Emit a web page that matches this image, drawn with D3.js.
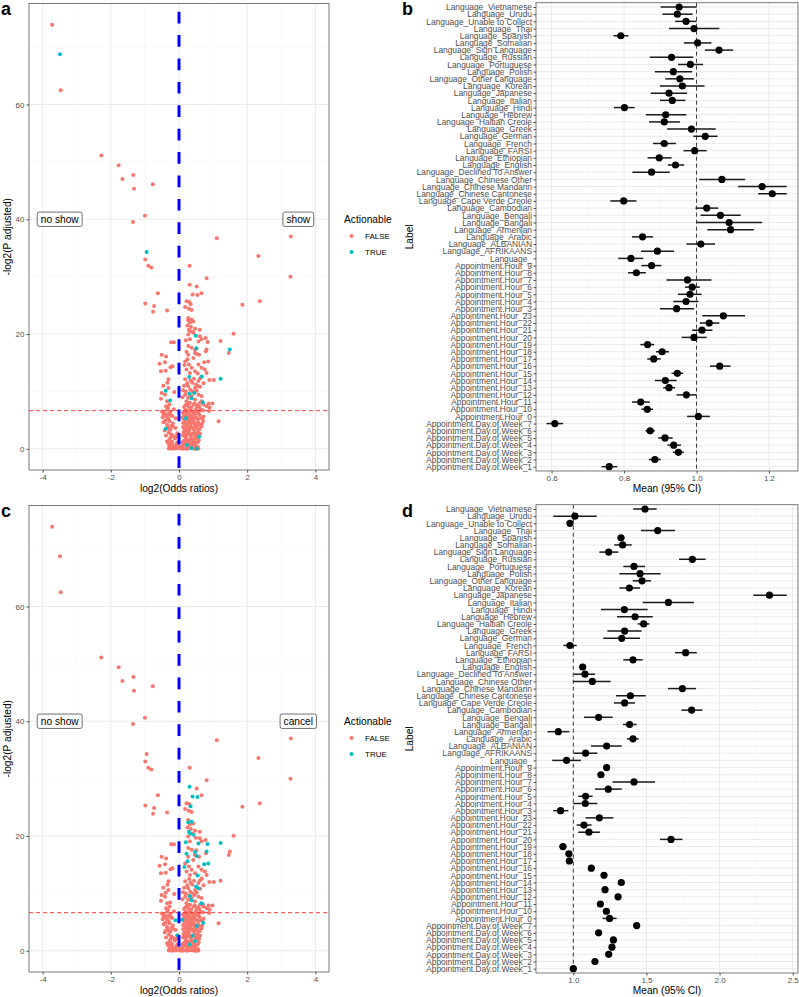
<!DOCTYPE html>
<html>
<head>
<meta charset="utf-8">
<script src="https://cdn.jsdelivr.net/npm/d3@7"></script>
<style>
  body { margin: 0; background: #fff; }
  svg { display: block; font-family: "Liberation Sans", Arial, sans-serif; }
</style>
</head>
<body>
<svg id="fig" width="799" height="997"></svg>
<script>
// ---- forest plot categories (top to bottom) ----
const labels = [
  "Language_Vietnamese", "Language_Urudu", "Language_Unable to Collect", "Language_Thai",
  "Language_Spanish", "Language_Somalian", "Language_Sign Language", "Language_Russian",
  "Language_Portuguese", "Language_Polish", "Language_Other Language", "Language_Korean",
  "Language_Japanese", "Language_Italian", "Language_Hindi", "Language_Hebrew",
  "Language_Haitian Creole", "Language_Greek", "Language_German", "Language_French",
  "Language_FARSI", "Language_Ethiopian", "Language_English", "Language_Declined To Answer",
  "Language_Chinese Other", "Language_Chinese Mandarin", "Language_Chinese Cantonese",
  "Language_Cape Verde Creole", "Language_Cambodian", "Language_Bengali", "Language_Bangali",
  "Language_Armenian", "Language_Arabic", "Language_ALBANIAN", "Language_AFRIKAANS", "Language_",
  "Appointment.Hour_9", "Appointment.Hour_8", "Appointment.Hour_7", "Appointment.Hour_6",
  "Appointment.Hour_5", "Appointment.Hour_4", "Appointment.Hour_3", "Appointment.Hour_23",
  "Appointment.Hour_22", "Appointment.Hour_21", "Appointment.Hour_20", "Appointment.Hour_19",
  "Appointment.Hour_18", "Appointment.Hour_17", "Appointment.Hour_16", "Appointment.Hour_15",
  "Appointment.Hour_14", "Appointment.Hour_13", "Appointment.Hour_12", "Appointment.Hour_11",
  "Appointment.Hour_10", "Appointment.Hour_0",
  "Appointment.Day.of.Week_7", "Appointment.Day.of.Week_6", "Appointment.Day.of.Week_5",
  "Appointment.Day.of.Week_4", "Appointment.Day.of.Week_3", "Appointment.Day.of.Week_2",
  "Appointment.Day.of.Week_1"
];

// panel b (show vs no show): mean and 95% CI
const showMean = [0.952,0.947,0.971,0.993,0.791,1.003,1.062,0.931,0.983,0.936,0.954,0.961,0.924,0.933,0.801,0.915,0.911,0.986,1.024,0.911,0.995,0.897,0.942,0.876,1.070,1.181,1.209,0.799,1.028,1.066,1.090,1.094,0.851,1.012,0.892,0.819,
  0.876,0.834,0.975,0.988,0.982,0.971,0.945,1.074,1.035,1.015,0.993,0.865,0.905,0.882,1.064,0.947,0.914,0.924,0.972,0.846,0.864,1.005,
  0.609,0.872,0.913,0.937,0.950,0.885,0.759];
const showLo = [0.901,0.906,0.941,0.924,0.771,0.965,1.023,0.871,0.949,0.885,0.914,0.899,0.874,0.899,0.772,0.860,0.869,0.919,0.991,0.880,0.964,0.865,0.921,0.823,1.007,1.115,1.170,0.762,0.997,1.011,1.000,1.030,0.822,0.972,0.847,0.784,
  0.848,0.811,0.917,0.968,0.949,0.936,0.899,1.016,1.009,0.988,0.959,0.845,0.888,0.864,1.037,0.931,0.885,0.908,0.945,0.822,0.848,0.974,
  0.586,0.859,0.894,0.920,0.935,0.869,0.738];
const showHi = [1.000,0.989,1.000,1.063,0.812,1.041,1.101,0.991,1.018,0.988,0.993,1.022,0.974,0.969,0.829,0.972,0.954,1.053,1.058,0.943,1.028,0.931,0.966,0.926,1.134,1.249,1.249,0.834,1.060,1.122,1.181,1.158,0.880,1.051,0.938,0.853,
  0.903,0.860,1.041,1.009,1.014,1.005,0.993,1.134,1.063,1.044,1.028,0.883,0.924,0.901,1.094,0.963,0.945,0.941,1.000,0.871,0.880,1.037,
  0.632,0.885,0.934,0.957,0.965,0.901,0.781];

// panel d (cancel vs no show): mean and 95% CI
const cancelMean = [1.490,1.011,0.977,1.577,1.326,1.337,1.242,1.814,1.415,1.456,1.470,1.383,2.341,1.650,1.349,1.422,1.481,1.351,1.331,0.977,1.768,1.408,1.064,1.080,1.130,1.746,1.390,1.351,1.809,1.173,1.385,0.897,1.408,1.228,1.084,0.954,
  1.228,1.189,1.415,1.239,1.084,1.082,0.913,1.178,1.073,1.107,1.668,0.929,0.970,0.973,1.123,1.210,1.328,1.217,1.306,1.185,1.226,1.248,
  1.433,1.173,1.274,1.264,1.242,1.148,1.000];
const cancelLo = [1.410,0.863,0.965,1.463,1.303,1.280,1.178,1.723,1.342,1.315,1.406,1.315,2.231,1.474,1.189,1.299,1.440,1.233,1.205,0.932,1.695,1.342,1.046,1.005,1.000,1.648,1.292,1.278,1.739,1.073,1.340,0.824,1.367,1.121,1.005,0.856,
  1.205,1.166,1.269,1.148,1.034,1.000,0.863,1.084,1.023,1.034,1.593,0.904,0.948,0.950,1.103,1.189,1.308,1.196,1.285,1.164,1.205,1.201,
  1.415,1.155,1.256,1.246,1.224,1.130,0.977];
const cancelHi = [1.570,1.160,0.990,1.695,1.349,1.399,1.308,1.905,1.490,1.597,1.531,1.456,2.459,1.825,1.508,1.543,1.520,1.467,1.456,1.023,1.844,1.474,1.082,1.148,1.255,1.839,1.495,1.422,1.882,1.269,1.433,0.973,1.447,1.331,1.164,1.052,
  1.251,1.212,1.559,1.331,1.132,1.164,0.966,1.274,1.125,1.182,1.746,0.954,0.993,0.995,1.144,1.230,1.349,1.237,1.326,1.205,1.246,1.296,
  1.451,1.192,1.292,1.283,1.260,1.166,1.023];

// volcano points: [log2 odds ratio, -log2 p adjusted, actionable in a (show), actionable in c (cancel)]
const volcanoPts = [
  [-3.72,73.9,0,0],[-3.49,68.75,1,0],[-3.47,62.5,0,0],[-2.28,51.1,0,0],[-1.77,49.4,0,0],[-1.66,47.0,0,0],
  [-1.34,47.7,0,0],[-1.32,45.3,0,0],[-0.77,46.1,0,0],[-1.00,40.6,0,0],[-1.35,39.5,0,0],[1.11,36.7,0,0],
  [3.28,37.0,0,0],[-0.95,34.3,1,0],[-0.99,33.0,0,0],[-0.90,31.9,0,0],[-0.81,31.6,0,0],[2.33,33.6,0,0],
  [0.31,31.9,0,0],[0.81,29.7,0,0],[3.27,30.0,0,0],[0.31,28.6,0,1],[0.52,28.3,0,0],[-0.62,27.1,0,0],
  [-0.99,25.3,0,0],[-0.73,24.9,0,0],[-0.76,23.9,0,0],[-0.35,24.1,0,0],[1.86,25.1,0,0],[2.37,25.7,0,0],
  [0.40,26.9,0,1],[0.54,26.8,0,1],[0.66,27.1,0,0],[0.22,25.7,0,0],[0.30,25.6,0,0],[0.34,25.2,0,1],
  [0.18,24.7,0,0],[0.29,24.4,0,0],[0.37,24.2,0,0],[1.60,20.05,0,0],[1.22,18.8,0,1],[1.49,17.3,1,0],
  [1.46,16.7,0,0],[1.22,12.2,1,0],[0.89,12.0,0,0],[1.02,12.0,0,0],[1.16,4.8,0,0],[0.87,7.9,0,0],[0.98,7.9,0,0],
  [0.27,22.8,0,0],[0.37,22.5,0,1],[0.27,22.4,0,1],[0.42,22.2,0,0],[0.32,22.0,0,0],[0.25,21.5,0,0],
  [0.35,21.2,0,0],[0.29,20.75,0,1],[0.32,20.5,0,1],[0.39,20.4,0,0],[0.47,20.9,0,0],[0.61,20.75,0,0],
  [0.42,20.2,0,1],[0.49,19.7,1,0],[0.27,19.9,0,0],[0.32,19.1,0,0],[0.61,19.6,0,0],[0.66,19.1,0,0],
  [0.78,19.3,0,0],[-0.23,18.55,0,0],[-0.15,18.55,0,0],[0.20,18.9,0,1],[0.57,18.7,0,1],[0.84,18.6,0,1],
  [0.51,17.5,1,0],[0.47,17.2,0,1],[0.81,17.3,0,1],[0.79,17.0,0,0],[0.27,17.9,0,0],[0.37,17.6,0,0],
  [0.47,16.7,0,0],[0.22,16.9,0,1],[0.52,16.5,0,1],[0.27,16.4,0,0],[0.42,15.8,0,0],[0.59,16.4,0,0],
  [-0.51,16.4,0,0],[-0.38,16.1,0,0],[-0.57,14.8,0,0],[-0.41,15.1,0,0],[-0.53,13.5,0,0],[-0.39,13.6,0,0],
  [-0.25,14.2,0,0],[-0.19,14.4,0,0],[0.18,15.2,0,0],[0.29,14.7,0,0],[0.37,14.1,0,0],[0.22,13.8,0,0],
  [0.32,13.2,0,0],[0.47,13.5,0,0],[0.57,14.7,0,0],[0.66,14.1,0,0],[0.76,13.8,0,0],[0.86,15.2,0,1],
  [0.74,15.1,0,1],[0.25,15.6,0,1],[0.16,14.6,0,1],[0.81,13.2,0,0],[0.55,13.1,0,1],[0.30,12.5,1,0],
  [0.67,12.6,1,0],[0.18,12.1,0,0],[0.39,11.5,0,0],[0.57,11.8,0,0],[0.50,11.2,0,1],[0.57,10.9,0,1],
  [0.27,10.9,0,0],[0.47,10.6,0,0],[0.62,10.8,0,0],[-0.39,10.1,1,0],[-0.31,12.1,0,0],[-0.34,11.5,0,0],
  [-0.46,11.0,0,0],[-0.31,10.6,0,0],[-0.51,9.7,0,0],[-0.41,9.4,0,0],[-0.14,9.9,0,0],[-0.53,8.7,0,0],
  [-0.35,8.3,0,0],[-0.26,8.4,1,0],[0.18,9.4,0,0],[0.27,8.9,0,0],[0.37,9.2,0,0],[0.47,8.6,0,0],
  [0.57,9.4,0,0],[0.66,9.2,0,0],[0.22,8.3,0,0],[0.32,8.0,0,0],[0.42,7.7,0,0],[0.52,7.4,0,0],
  [0.62,8.0,0,0],[0.70,8.1,1,0],[0.81,7.4,0,0],[0.45,9.7,1,0],[0.30,9.6,1,0],[0.37,8.8,1,1],
  [0.32,9.5,0,1],[0.66,8.3,0,1],[0.12,10.2,0,0],[0.15,11.0,0,0],[0.10,9.0,0,0],
  [0.20,10.0,0,0],[0.33,10.3,0,0],[0.41,10.0,0,0],[0.52,10.1,0,0],[0.24,11.4,0,0],[0.34,11.9,0,0],
  [0.44,12.2,0,0],[0.62,12.3,0,0],[0.72,11.4,0,0],
  [-0.38,7.4,0,0],[-0.28,7.7,0,0],[0.15,7.3,0,0],[0.24,7.8,0,0],[0.55,7.6,0,0],[0.90,7.2,0,0],
  [-0.32,7.1,0,0],[0.19,7.6,0,0],[0.28,7.4,0,0],[0.36,7.2,0,0],[0.46,7.9,0,0],[0.60,7.3,0,0],[0.72,7.7,0,0],
  [-0.50,6.5,0,0],[-0.42,6.2,0,0],[-0.35,6.8,0,0],[-0.25,6.4,0,0],[-0.15,6.9,0,0],[0.12,6.3,0,0],
  [0.20,6.8,0,0],[0.28,6.2,0,0],[0.36,6.6,0,0],[0.43,6.1,0,0],[0.50,6.9,0,0],[0.58,6.4,0,0],
  [0.70,6.7,0,0],[0.88,6.6,0,0],
  [-0.45,6.0,0,0],[-0.30,6.1,0,0],[0.16,6.5,0,0],[0.24,6.5,0,0],[0.32,6.9,0,0],[0.40,6.4,0,0],
  [0.47,6.5,0,0],[0.54,6.2,0,0],[0.63,6.8,0,0],
  [-0.48,5.5,0,0],[-0.40,5.9,0,0],[-0.30,5.2,0,0],[-0.20,5.7,0,0],[-0.10,5.3,0,1],[0.10,5.4,0,1],
  [0.15,5.8,0,0],[0.20,5.3,1,0],[0.22,5.9,0,0],[0.30,5.5,0,0],[0.38,5.1,0,0],[0.45,5.7,0,0],
  [0.52,5.3,0,0],[0.60,5.9,0,0],[0.72,5.6,0,0],
  [-0.35,5.5,0,0],[-0.25,5.9,0,0],[0.18,5.5,0,0],[0.26,5.2,0,0],[0.34,5.8,0,0],[0.41,5.4,0,0],
  [0.48,5.5,0,0],[0.56,5.2,0,0],[0.65,5.3,0,0],
  [-0.45,4.6,0,0],[-0.35,4.2,0,0],[-0.28,4.8,0,0],[-0.18,4.4,0,0],[0.12,4.5,0,0],[0.20,4.1,0,0],
  [0.27,4.7,0,0],[0.34,4.3,0,0],[0.41,4.9,0,0],[0.47,4.2,0,0],[0.52,4.3,0,1],[0.56,4.6,0,0],
  [0.68,4.4,0,0],[0.71,4.9,0,1],
  [-0.40,4.9,0,0],[-0.22,4.0,0,0],[0.16,4.9,0,0],[0.24,4.4,0,0],[0.31,4.9,0,0],[0.38,4.5,0,0],
  [0.44,4.7,0,0],[0.60,4.2,0,0],
  [-0.42,3.2,0,0],[-0.39,3.5,1,0],[-0.33,3.8,0,0],[-0.25,3.3,0,0],[-0.10,3.6,0,0],[0.16,3.4,0,0],
  [0.24,3.9,0,0],[0.30,3.2,0,0],[0.37,3.7,0,0],[0.44,3.3,0,0],[0.51,3.8,0,0],[0.60,3.4,0,0],[0.66,3.9,0,0],
  [-0.30,3.5,0,0],[-0.18,3.9,0,0],[0.12,3.8,0,0],[0.20,3.2,0,0],[0.27,3.5,0,0],[0.34,3.9,0,0],
  [0.41,3.6,0,0],[0.48,3.9,0,0],[0.55,3.5,0,0],
  [-0.38,2.3,0,0],[-0.30,2.8,0,0],[-0.22,2.5,0,0],[-0.15,2.2,0,0],[-0.05,2.7,0,1],[0.14,2.9,0,0],
  [0.22,2.4,0,0],[0.28,2.8,0,0],[0.35,2.2,0,0],[0.40,2.6,0,1],[0.48,2.3,0,0],[0.55,2.9,0,0],
  [0.59,2.1,1,0],[0.62,2.6,0,0],
  [-0.25,2.0,0,0],[-0.08,2.1,0,0],[0.12,2.3,0,0],[0.18,2.7,0,0],[0.32,2.5,0,0],[0.45,2.8,0,0],[0.52,2.5,0,0],
  [-0.35,1.3,0,0],[-0.27,1.6,0,0],[-0.20,1.2,0,0],[-0.12,1.8,0,0],[0.15,1.4,0,0],[0.20,1.9,0,0],
  [0.26,1.2,0,0],[0.32,1.1,0,1],[0.38,1.7,0,0],[0.45,1.3,0,0],[0.47,1.7,0,1],[0.50,1.9,0,0],[0.58,1.5,0,0],
  [-0.32,1.0,0,0],[-0.05,1.1,0,0],[0.10,1.15,0,0],[0.22,1.5,0,0],[0.30,1.6,0,0],[0.42,1.1,0,0],[0.55,1.1,0,0],
  [-0.28,0.6,0,0],[-0.18,0.5,0,0],[-0.08,0.8,0,0],[0.12,0.7,0,0],[0.23,0.65,1,0],[0.32,0.5,0,0],
  [0.42,0.8,0,0],[0.50,0.45,0,0],[-0.22,0.95,0,0],[0.18,1.0,0,0],[0.28,0.9,0,0],[0.38,0.55,0,0],[0.46,0.95,0,0],
  [-0.27,0.3,0,0],[-0.12,0.35,0,0],[0.02,0.4,0,0],[0.08,0.3,0,0],[0.27,0.3,0,0],[0.35,0.35,0,0],[0.55,0.3,0,0],
  [-0.30,0.05,0,0],[-0.25,0.1,0,0],[-0.20,0.0,0,0],[-0.15,0.15,0,0],[-0.10,0.05,0,0],[-0.05,0.1,0,0],
  [0.05,0.05,0,0],[0.10,0.0,0,0],[0.15,0.1,0,0],[0.20,0.05,0,0],[0.25,0.0,0,0],[0.30,0.12,0,0],
  [0.37,0.1,1,0],[0.42,0.05,0,0],[0.47,0.0,0,0],[0.52,0.0,1,0],[0.57,0.05,0,0]
];

const colFalse = "#F8766D", colTrue = "#00BFC4";
const gridMajor = "#ebebeb", gridMinor = "#f5f5f5";
const border = "#6b6b6b", tickCol = "#4d4d4d";

const svg = d3.select("#fig");

function drawVolcano(oy, flag, sideText, letter) {
  const g = svg.append("g").attr("transform", `translate(0,${oy})`);
  const x = d3.scaleLinear().domain([-4.4, 4.4]).range([29, 329]);
  const y = d3.scaleLinear().domain([-3.7, 77.6]).range([470, 3.5]);

  // grid
  g.selectAll(".gxm").data([-3, -1, 1, 3]).join("line")
    .attr("x1", d => x(d)).attr("x2", d => x(d)).attr("y1", y.range()[0]).attr("y2", y.range()[1])
    .attr("stroke", gridMinor).attr("stroke-width", 0.6);
  g.selectAll(".gym").data([10, 30, 50, 70]).join("line")
    .attr("y1", d => y(d)).attr("y2", d => y(d)).attr("x1", 29).attr("x2", 329)
    .attr("stroke", gridMinor).attr("stroke-width", 0.6);
  g.selectAll(".gx").data([-4, -2, 0, 2, 4]).join("line")
    .attr("x1", d => x(d)).attr("x2", d => x(d)).attr("y1", y.range()[0]).attr("y2", y.range()[1])
    .attr("stroke", gridMajor).attr("stroke-width", 1);
  g.selectAll(".gy").data([0, 20, 40, 60]).join("line")
    .attr("y1", d => y(d)).attr("y2", d => y(d)).attr("x1", 29).attr("x2", 329)
    .attr("stroke", gridMajor).attr("stroke-width", 1);

  // points: FALSE first, TRUE on top
  const pts = volcanoPts.slice().sort((a, b) => a[flag] - b[flag]);
  g.selectAll(".pt").data(pts).join("circle")
    .attr("cx", d => x(d[0])).attr("cy", d => y(d[1])).attr("r", 2)
    .attr("fill", d => d[flag] ? colTrue : colFalse);

  // significance threshold
  g.append("line").attr("x1", 29).attr("x2", 329)
    .attr("y1", y(-Math.log2(0.01))).attr("y2", y(-Math.log2(0.01)))
    .attr("stroke", "#ff2a2a").attr("stroke-width", 0.9).attr("stroke-dasharray", "4,3");
  // zero line
  g.append("line").attr("x1", x(0)).attr("x2", x(0)).attr("y1", 3.5).attr("y2", 470)
    .attr("stroke", "#0000ff").attr("stroke-width", 3)
    .attr("stroke-dasharray", "11.7,11.7").attr("stroke-dashoffset", 15.2);

  // annotations
  [[-3.5, "no show"], [3.5, sideText]].forEach(([vx, t]) => {
    const lab = g.append("g").attr("transform", `translate(${x(vx)},${y(40)})`);
    const txt = lab.append("text").attr("text-anchor", "middle").attr("dy", "0.35em")
      .attr("font-size", 10.2).attr("fill", "#000").text(t);
    const w = txt.node().getComputedTextLength();
    lab.insert("rect", "text").attr("x", -w / 2 - 3.5).attr("y", -7.2).attr("width", w + 7).attr("height", 14.4)
      .attr("rx", 2).attr("fill", "#fff").attr("stroke", "#333").attr("stroke-width", 0.7);
  });

  // border
  g.append("rect").attr("x", 29).attr("y", 3.5).attr("width", 300).attr("height", 466.5)
    .attr("fill", "none").attr("stroke", border).attr("stroke-width", 0.9);

  // axes
  const ax = g.append("g").attr("transform", "translate(0,470)")
    .call(d3.axisBottom(x).tickValues([-4, -2, 0, 2, 4]).tickSize(2.5).tickPadding(2).tickFormat(d3.format("d")));
  const ay = g.append("g").attr("transform", "translate(29,0)")
    .call(d3.axisLeft(y).tickValues([0, 20, 40, 60]).tickSize(2.5).tickPadding(2));
  [ax, ay].forEach(a => {
    a.select(".domain").remove();
    a.selectAll("line").attr("stroke", tickCol);
    a.selectAll("text").attr("fill", tickCol).attr("font-size", 8).attr("font-family", null);
  });
  ax.selectAll("text").text(d => d < 0 ? "-" + Math.abs(d) : d);

  g.append("text").attr("x", 179).attr("y", 492).attr("text-anchor", "middle")
    .attr("font-size", 10.2).text("log2(Odds ratios)");
  g.append("text").attr("transform", `translate(11,${(3.5 + 470) / 2}) rotate(-90)`)
    .attr("text-anchor", "middle").attr("font-size", 10.2).text("-log2(P adjusted)");

  // legend
  g.append("text").attr("x", 344).attr("y", 222.5).attr("font-size", 10.2).text("Actionable");
  [["FALSE", colFalse, 236], ["TRUE", colTrue, 252]].forEach(([t, c, ly]) => {
    g.append("circle").attr("cx", 351.5).attr("cy", ly).attr("r", 2).attr("fill", c);
    g.append("text").attr("x", 365).attr("y", ly).attr("dy", "0.35em").attr("font-size", 8)
      .attr("fill", "#000").text(t);
  });

  g.append("text").attr("x", 1).attr("y", 14.5).attr("font-size", 18).attr("font-weight", "bold").text(letter);
}

function drawForest(oy, mean, lo, hi, domain, majors, minors, letter) {
  const g = svg.append("g").attr("transform", `translate(0,${oy})`);
  const L = 536, R = 798, T = 2.7, B = 471;
  const x = d3.scaleLinear().domain(domain).range([L, R]);
  const y = d3.scalePoint().domain(labels).range([T, B]).padding(0.6);

  g.selectAll(".gxm").data(minors).join("line")
    .attr("x1", d => x(d)).attr("x2", d => x(d)).attr("y1", T).attr("y2", B)
    .attr("stroke", gridMinor).attr("stroke-width", 0.6);
  g.selectAll(".gx").data(majors).join("line")
    .attr("x1", d => x(d)).attr("x2", d => x(d)).attr("y1", T).attr("y2", B)
    .attr("stroke", gridMajor).attr("stroke-width", 1);
  g.selectAll(".gy").data(labels).join("line")
    .attr("y1", d => y(d)).attr("y2", d => y(d)).attr("x1", L).attr("x2", R)
    .attr("stroke", gridMajor).attr("stroke-width", 1);

  g.append("line").attr("x1", x(1)).attr("x2", x(1)).attr("y1", T).attr("y2", B)
    .attr("stroke", "#3a3a3a").attr("stroke-width", 1).attr("stroke-dasharray", "4,3");

  g.selectAll(".ci").data(labels).join("line")
    .attr("x1", (d, i) => x(lo[i])).attr("x2", (d, i) => x(hi[i]))
    .attr("y1", d => y(d)).attr("y2", d => y(d))
    .attr("stroke", "#1a1a1a").attr("stroke-width", 1.5);
  g.selectAll(".pt").data(labels).join("circle")
    .attr("cx", (d, i) => x(mean[i])).attr("cy", d => y(d)).attr("r", 3.6).attr("fill", "#000");

  g.append("rect").attr("x", L).attr("y", T).attr("width", R - L).attr("height", B - T)
    .attr("fill", "none").attr("stroke", border).attr("stroke-width", 0.9);

  const ax = g.append("g").attr("transform", `translate(0,${B})`)
    .call(d3.axisBottom(x).tickValues(majors).tickSize(2.5).tickPadding(2).tickFormat(d3.format(".1f")));
  const ay = g.append("g").attr("transform", `translate(${L},0)`)
    .call(d3.axisLeft(y).tickSize(2.5).tickPadding(1.5));
  [ax, ay].forEach(a => {
    a.select(".domain").remove();
    a.selectAll("line").attr("stroke", tickCol);
    a.selectAll("text").attr("fill", tickCol).attr("font-size", 8).attr("font-family", null);
  });
  ay.selectAll("text").attr("font-size", 8.4);

  g.append("text").attr("x", (L + R) / 2).attr("y", 492).attr("text-anchor", "middle")
    .attr("font-size", 10.2).text("Mean (95% CI)");
  g.append("text").attr("transform", `translate(413,${(T + B) / 2}) rotate(-90)`)
    .attr("text-anchor", "middle").attr("font-size", 10.2).text("Label");
  g.append("text").attr("x", 402).attr("y", 14.5).attr("font-size", 18).attr("font-weight", "bold").text(letter);
}

drawVolcano(0, 2, "show", "a");
drawForest(0, showMean, showLo, showHi, [0.557, 1.28], [0.6, 0.8, 1.0, 1.2], [0.7, 0.9, 1.1], "b");
drawVolcano(502, 3, "cancel", "c");
drawForest(502, cancelMean, cancelLo, cancelHi, [0.745, 2.536], [1.0, 1.5, 2.0, 2.5], [1.25, 1.75, 2.25], "d");
</script>
</body>
</html>
